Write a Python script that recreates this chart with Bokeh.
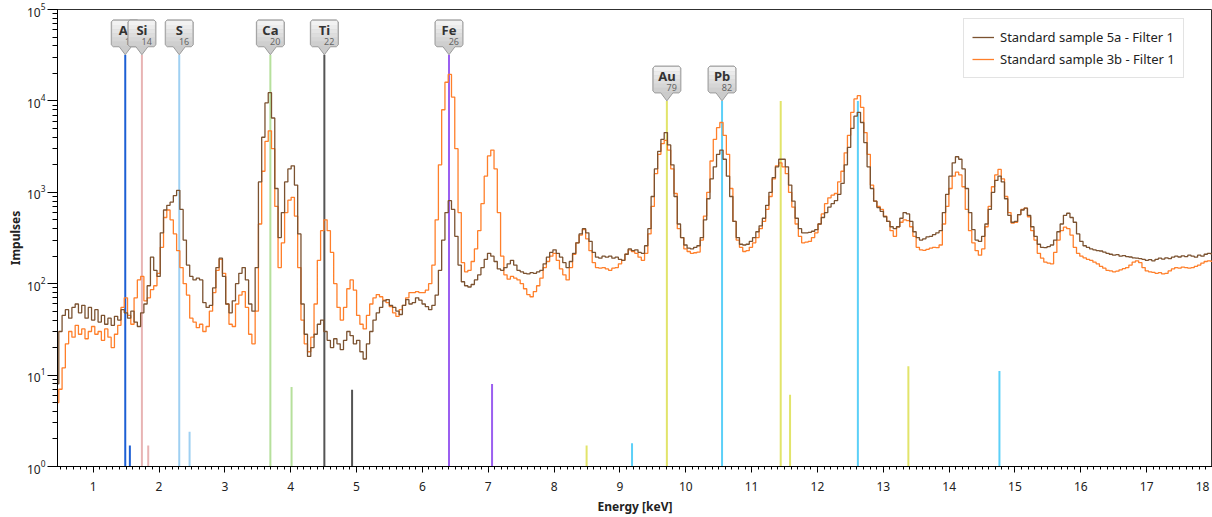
import numpy as np
from bokeh.plotting import figure
from bokeh.models import (ColumnDataSource, Legend, LegendItem, SingleIntervalTicker,
                          LogTicker, Range1d)
from bokeh.core.properties import value
from bokeh.embed import file_html
from bokeh.resources import INLINE

# ---------------- data ----------------
# channel calibration of the spectra (keV of first channel, keV per channel)
E_OFFSET = 0.453
CHANNEL_KEV = 0.0497

series_names = ["Standard sample 5a - Filter 1", "Standard sample 3b - Filter 1"]
series_colors = ["#7b5230", "#ff7f2a"]

counts_5a = [
    8, 30, 45, 52, 42, 55, 60, 48, 58, 42, 55,
    40, 52, 38, 45, 36, 42, 35, 44, 40, 52, 48, 42, 50, 38, 34, 48, 60, 95, 195, 140,
    120, 360, 640, 720, 780, 920, 1050, 650, 300, 160, 120, 110, 115, 110, 62, 55, 58, 90, 150, 190,
    120, 60, 48, 65, 100, 130, 150, 110, 60, 50, 150, 1300, 4000, 9500, 12300, 6500, 1100, 320, 600, 1300,
    1800, 1950, 1200, 350, 60, 28, 16, 20, 28, 36, 40, 30, 24, 20, 25, 22, 19, 24, 30, 27,
    22, 24, 18, 15, 22, 30, 40, 48, 55, 65, 67, 58, 55, 50, 46, 58, 67, 60, 62, 70,
    66, 60, 56, 52, 58, 75, 140, 300, 600, 810, 650, 330, 160, 105, 95, 92, 98, 110, 125, 150,
    185, 215, 200, 175, 145, 140, 150, 165, 180, 160, 140, 135, 130, 128, 132, 130, 135, 140, 165, 195,
    220, 235, 215, 195, 170, 150, 175, 215, 280, 350, 400, 360, 290, 220, 195, 190, 200, 195, 200, 190,
    195, 185, 180, 210, 240, 230, 235, 220, 215, 260, 400, 900, 1800, 2800, 3800, 4500, 3300, 2000, 900, 450,
    320, 265, 245, 240, 250, 260, 320, 500, 850, 1400, 1900, 2600, 2900, 2300, 1500, 900, 480, 320, 270, 265,
    270, 290, 320, 370, 430, 520, 720, 1000, 1450, 1900, 2300, 2300, 1900, 1200, 800, 520, 400, 360, 360, 365,
    375, 390, 450, 530, 600, 690, 750, 810, 950, 1250, 2000, 3100, 5000, 6800, 7500, 5800, 3500, 1900, 1100, 800,
    680, 620, 540, 480, 420, 400, 420, 520, 600, 580, 480, 370, 320, 300, 310, 325, 330, 345, 360, 380,
    600, 950, 1500, 2100, 2450, 2300, 1800, 1100, 600, 390, 300, 290, 330, 450, 650, 1000, 1350, 1500, 1300, 850,
    560, 470, 480, 570, 640, 670, 560, 420, 330, 270, 250, 248, 255, 265, 300, 370, 450, 560, 590, 530,
    470, 350, 290, 260, 250, 240, 235, 230, 228, 222, 215, 210, 205, 208, 200, 203, 198, 196, 192, 190,
    188, 185, 180, 183, 178, 185, 190, 186, 192, 188, 195, 200, 196, 202, 198, 205, 200, 195, 205, 200,
    210, 215, 212, 208,
]

counts_3b = [
    5, 7, 12, 22, 30, 26, 35, 28, 32, 25, 30,
    34, 28, 30, 24, 32, 26, 20, 28, 35, 55, 70, 45, 36, 70, 110, 120, 65, 70, 86, 95,
    130, 250, 530, 640, 500, 350, 230, 150, 100, 75, 42, 38, 33, 36, 30, 34, 50, 80, 140, 185,
    130, 60, 36, 34, 60, 75, 82, 55, 28, 22, 50, 450, 1700, 3600, 4700, 3000, 700, 150, 280, 600,
    820, 880, 550, 150, 40, 22, 18, 26, 60, 180, 380, 500, 380, 220, 100, 55, 40, 55, 88, 110,
    85, 45, 36, 32, 45, 60, 70, 76, 72, 66, 62, 56, 48, 44, 52, 58, 70, 80, 80, 82,
    80, 80, 85, 100, 160, 500, 2000, 8000, 16000, 19500, 11000, 3000, 600, 170, 135, 140, 175, 240, 380, 750,
    1500, 2500, 2900, 1800, 600, 200, 125, 112, 120, 115, 110, 100, 88, 76, 72, 82, 95, 115, 150, 175,
    200, 215, 180, 145, 125, 110, 150, 210, 280, 340, 390, 310, 230, 170, 150, 148, 150, 145, 140, 148,
    150, 165, 180, 210, 235, 225, 215, 195, 180, 215, 350, 700, 1600, 2600, 3400, 3700, 2900, 1800, 970, 400,
    320, 240, 225, 215, 218, 222, 300, 550, 1000, 2200, 3800, 5100, 5800, 4200, 2600, 1100, 480, 300, 250, 225,
    230, 250, 280, 320, 400, 480, 650, 900, 1400, 1950, 2100, 1900, 1600, 1000, 690, 450, 330, 280, 285, 290,
    320, 360, 450, 580, 750, 870, 930, 970, 1300, 1700, 2700, 4200, 7500, 10500, 11400, 8500, 4500, 2600, 1200, 800,
    700, 650, 550, 480, 380, 330, 420, 470, 500, 490, 420, 330, 250, 235, 232, 238, 245, 250, 248, 265,
    450, 700, 1100, 1500, 1660, 1550, 1150, 650, 380, 280, 230, 205, 240, 420, 700, 1150, 1550, 1780, 1400, 900,
    600, 460, 470, 570, 650, 670, 540, 380, 300, 215, 190, 172, 168, 165, 220, 300, 380, 415, 400, 340,
    250, 215, 200, 192, 185, 180, 172, 165, 155, 148, 140, 138, 135, 137, 142, 146, 150, 160, 172, 178,
    170, 150, 138, 135, 133, 130, 132, 128, 130, 138, 145, 150, 148, 152, 150, 148, 150, 155, 160, 168,
    175, 178, 176, 180,
]

# characteristic lines with label callouts
element_symbols = ["Al", "Si", "S", "Ca", "Ti", "Fe", "Au", "Pb"]
atomic_numbers = [13, 14, 16, 20, 22, 26, 79, 82]
main_line_keV = [1.487, 1.740, 2.307, 3.691, 4.511, 6.404, 9.713, 10.551]
main_line_height = [32000, 32000, 32000, 32000, 32000, 32000, 10000, 10000]
element_colors = ["#1c5fd4", "#e8b4b4", "#9fd0f2", "#b6e09c", "#555555", "#9b5ff0", "#e2e46a", "#5cd0f8"]

# secondary lines
minor_line_keV = [1.557, 1.836, 2.464, 4.013, 4.932, 7.058, 8.494, 9.184, 11.442, 11.584, 12.614, 13.381, 14.764]
minor_line_height = [1.7, 1.7, 2.4, 7.4, 6.9, 8.0, 1.7, 1.8, 10000, 6.1, 10000, 12.5, 11.1]
minor_line_element = ["Al", "Si", "S", "Ca", "Ti", "Fe", "Au", "Pb", "Au", "Au", "Pb", "Au", "Pb"]

assert len(counts_5a) == len(counts_3b)
energy = E_OFFSET + CHANNEL_KEV * np.arange(len(counts_5a))

# ---------------- layout ----------------
W, H = 1212, 517
B_L, B_R, B_T, B_B = 57, 0, 9, 49
X_START, X_END = 0.458, 18.0
Y_START, Y_END = 1.0, 1e5
FONT = "Noto Sans"

p = figure(width=W, height=H, x_range=Range1d(X_START, X_END), y_range=Range1d(Y_START, Y_END),
           y_axis_type="log", output_backend="svg", toolbar_location=None,
           min_border_left=B_L, min_border_right=B_R, min_border_top=B_T, min_border_bottom=B_B)

frame_w = W - B_L - B_R
frame_h = H - B_T - B_B
PX_PER_KEV = frame_w / (X_END - X_START)
PX_PER_DEC = frame_h / (np.log10(Y_END) - np.log10(Y_START))

p.xgrid.visible = False
p.ygrid.visible = False
p.outline_line_color = "#303030"
p.outline_line_width = 1
p.background_fill_color = "white"
p.border_fill_color = "white"

# axes
p.xaxis.ticker = SingleIntervalTicker(interval=1, num_minor_ticks=10)
p.xaxis.major_label_overrides = {18: "18\u00a0"}
p.xaxis.axis_label = "Energy [keV]"
p.yaxis.axis_label = "Impulses"
p.yaxis.ticker = LogTicker(num_minor_ticks=10)
for ax in (p.xaxis[0], p.yaxis[0]):
    ax.axis_line_color = "black"
    ax.major_tick_line_color = "black"
    ax.minor_tick_line_color = "black"
    ax.major_tick_in = 0
    ax.minor_tick_in = 0
    ax.major_label_text_font = FONT
    ax.major_label_text_font_size = "12px"
    ax.major_label_text_color = "#222222"
    ax.axis_label_text_font = FONT
    ax.axis_label_text_font_size = "12px"
    ax.axis_label_text_font_style = "bold"
    ax.axis_label_text_color = "#222222"
p.xaxis.major_tick_out = 6
p.xaxis.minor_tick_out = 3
p.xaxis.major_label_standoff = 5
p.xaxis.axis_label_standoff = 0
p.xaxis.major_label_text_line_height = 1.0
p.xaxis.axis_label_text_line_height = 1.0
p.yaxis.major_tick_out = 10
p.yaxis.minor_tick_out = 5
p.yaxis.major_label_standoff = 2
p.yaxis.axis_label_standoff = 0

color_of = dict(zip(element_symbols, element_colors))

# element lines (under the spectra)
p.segment(x0=main_line_keV, y0=[Y_START] * len(main_line_keV), x1=main_line_keV, y1=main_line_height,
          line_color=element_colors, line_width=2)
p.segment(x0=minor_line_keV, y0=[Y_START] * len(minor_line_keV), x1=minor_line_keV, y1=minor_line_height,
          line_color=[color_of[e] for e in minor_line_element], line_width=2)

# spectra
src_5a = ColumnDataSource(dict(x=energy, y=counts_5a))
src_3b = ColumnDataSource(dict(x=energy, y=counts_3b))
r_3b = p.step("x", "y", source=src_3b, mode="center", line_color=series_colors[1], line_width=1.3)
r_5a = p.step("x", "y", source=src_5a, mode="center", line_color=series_colors[0], line_width=1.3)

# callouts
def to_data(cx, tip_log, pts):
    xs = [cx + dx / PX_PER_KEV for dx, dy in pts]
    ys = [10 ** (tip_log + dy / PX_PER_DEC) for dx, dy in pts]
    return xs, ys

shape = [(0, 0), (6, 8), (12, 8), (14, 10), (14, 33), (12, 35), (-12, 35), (-14, 33), (-14, 10), (-12, 8), (-6, 8)]
n_bands = 6
band_cols = ["#cfcfcf", "#d6d6d6", "#dddddd", "#e4e4e4", "#ebebeb", "#f2f2f2"]
for sym, z, e, h in zip(element_symbols, atomic_numbers, main_line_keV, main_line_height):
    tl = np.log10(h)
    xs, ys = to_data(e, tl, shape)
    p.patch(xs, ys, fill_color="#cbcbcb", line_color=None)
    for k in range(n_bands):
        y0 = 9 + k * 25 / n_bands
        y1 = 9 + (k + 1) * 25 / n_bands
        bx, by = to_data(e, tl, [(-13, y0), (13, y0), (13, y1), (-13, y1)])
        p.patch(bx, by, fill_color=band_cols[k], line_color=None)
    p.patch(xs, ys, fill_color=None, line_color="#9c9c9c", line_width=1)
    tx, ty = to_data(e, tl, [(0, 25)])
    p.text(x=tx, y=ty, text=[sym], text_font=value(FONT), text_font_style="bold",
           text_font_size="13px", text_align="center", text_baseline="middle", text_color="#333333")
    nx, ny = to_data(e, tl, [(10, 13)])
    p.text(x=nx, y=ny, text=[str(z)], text_font=value(FONT), text_font_size="9px",
           text_align="right", text_baseline="middle", text_color="#666666")

legend = Legend(items=[LegendItem(label=series_names[0], renderers=[r_5a]),
                       LegendItem(label=series_names[1], renderers=[r_3b])],
                location=(906, 388))
legend.label_text_font = FONT
legend.label_text_font_size = "13px"
legend.label_text_color = "#222222"
legend.glyph_width = 22
legend.glyph_height = 20
legend.label_height = 20
legend.label_standoff = 6
legend.spacing = 2
legend.padding = 8
legend.margin = 0
legend.border_line_color = "#c8c8c8"
legend.background_fill_color = "white"
legend.background_fill_alpha = 1.0
p.add_layout(legend)

open("out.html", "w").write(file_html(p, INLINE))
